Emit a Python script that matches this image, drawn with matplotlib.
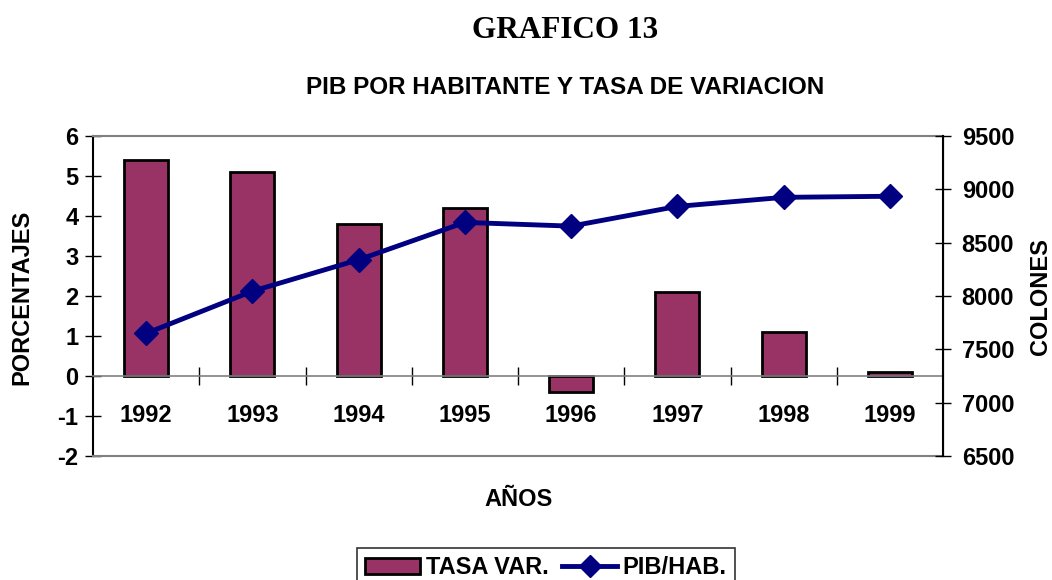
import numpy as np
import matplotlib
matplotlib.use('Agg')
import matplotlib.pyplot as plt
from matplotlib.patches import Patch
from matplotlib.lines import Line2D

# data
years = ['1992', '1993', '1994', '1995', '1996', '1997', '1998', '1999']
tasa_var = [5.4, 5.1, 3.8, 4.2, -0.4, 2.1, 1.1, 0.1]
pib_hab = [7650, 8045, 8340, 8690, 8655, 8840, 8925, 8935]
left_ticks = [-2, -1, 0, 1, 2, 3, 4, 5, 6]
right_ticks = [6500, 7000, 7500, 8000, 8500, 9000, 9500]

plt.rcParams['font.family'] = ['Liberation Sans', 'DejaVu Sans']
plt.rcParams['font.weight'] = 'bold'

bar_color = '#993366'
line_color = '#000080'
fs = 17

fig = plt.figure(figsize=(10.52, 5.8), dpi=100)
ax = fig.add_axes([93 / 1052, 1 - 456 / 580, 850 / 1052, 320 / 580])
ax2 = ax.twinx()

x = np.arange(len(years))
ax.bar(x, tasa_var, width=0.415, color=bar_color, edgecolor='black', linewidth=2, zorder=2)
ax.set_xlim(-0.5, len(years) - 0.5)
ax.set_ylim(-2, 6)
ax.set_yticks(left_ticks)
ax.set_yticklabels([str(t) for t in left_ticks], fontsize=fs, fontweight='bold')

# category axis crosses at zero
ax.spines['bottom'].set_position(('data', 0))
ax.spines['bottom'].set_color('#808080')
ax.spines['bottom'].set_linewidth(1.2)
ax.spines['top'].set_color('#808080')
ax.spines['top'].set_linewidth(1.5)
ax.spines['left'].set_linewidth(1.5)
ax.set_xticks(x)
ax.set_xticklabels(years, fontsize=fs, fontweight='bold')
ax.set_xticks(x[:-1] + 0.5, minor=True)
ax.tick_params(axis='x', which='major', length=0, pad=20)
ax.tick_params(axis='x', which='minor', direction='inout', length=13, width=1, color='black')
ax.tick_params(axis='y', direction='inout', length=11, width=1, pad=5)
ax.plot([0, 1], [0, 0], transform=ax.transAxes, color='#808080', lw=1.5, clip_on=False, zorder=3)

ax2.plot(x, pib_hab, color=line_color, lw=3.5, marker='D', markersize=12, zorder=3)
ax2.set_ylim(6500, 9500)
ax2.set_yticks(right_ticks)
ax2.set_yticklabels([str(t) for t in right_ticks], fontsize=fs, fontweight='bold')
ax2.tick_params(axis='y', direction='inout', length=11, width=1, pad=8)
ax2.spines['right'].set_linewidth(1.5)
for s in ['top', 'bottom', 'left']:
    ax2.spines[s].set_visible(False)

ax.set_zorder(ax2.get_zorder() - 1)
ax2.patch.set_visible(False)

fig.text(565 / 1052, 1 - 30 / 580, 'GRAFICO 13', ha='center', va='center',
         fontsize=22.5, fontweight='bold', family='Liberation Serif')
fig.text(565 / 1052, 1 - 88 / 580, 'PIB POR HABITANTE Y TASA DE VARIACION',
         ha='center', va='center', fontsize=17.5, fontweight='bold')
fig.text(519 / 1052, 1 - 500 / 580, 'AÑOS', ha='center', va='center', fontsize=fs, fontweight='bold')
fig.text(22 / 1052, 1 - 297 / 580, 'PORCENTAJES', ha='center', va='center', rotation=90,
         fontsize=fs, fontweight='bold')
fig.text(1040 / 1052, 1 - 297 / 580, 'COLONES', ha='center', va='center', rotation=90,
         fontsize=fs, fontweight='bold')

handles = [Patch(facecolor=bar_color, edgecolor='black', linewidth=2),
           Line2D([], [], color=line_color, lw=3.5, marker='D', markersize=11)]
leg = fig.legend(handles, ['TASA VAR.', 'PIB/HAB.'], loc='lower center',
                 bbox_to_anchor=(546 / 1052, -0.025), ncol=2, frameon=True, fancybox=False,
                 edgecolor='black', prop={'size': fs, 'weight': 'bold'},
                 handlelength=2.3, handletextpad=0.25, columnspacing=0.6, borderpad=0.35,
                 borderaxespad=0.3)
leg.get_frame().set_linewidth(1.2)

fig.savefig('out.png', dpi=100, facecolor='white')
